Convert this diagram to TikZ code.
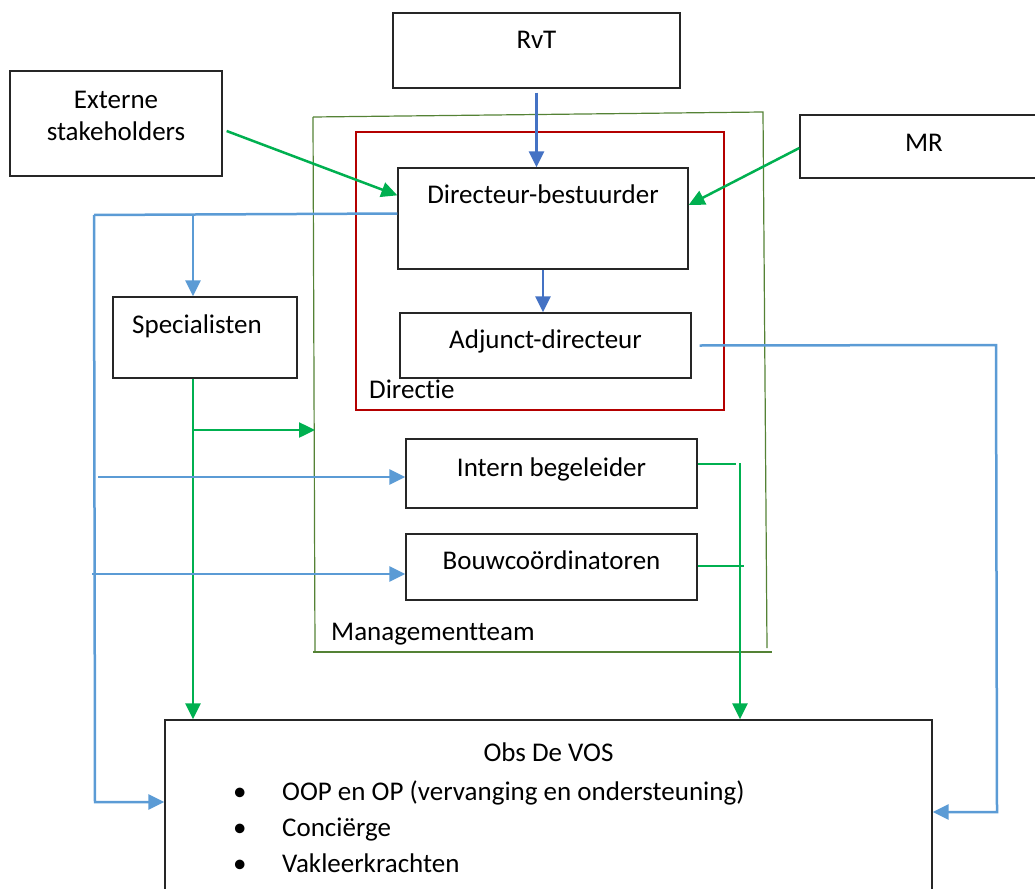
\documentclass[tikz,border=0pt]{standalone}
\usepackage{fontspec}
\setmainfont{Carlito}[Ligatures=NoCommon]
\usetikzlibrary{arrows.meta}
\definecolor{lineblue}{RGB}{91,155,213}
\definecolor{darkblue}{RGB}{68,114,196}
\definecolor{arrowgreen}{RGB}{0,176,80}
\definecolor{teamgreen}{RGB}{84,130,53}
\definecolor{boxred}{RGB}{180,0,0}
\tikzset{
  box/.style={draw=black!85, line width=1.3pt, inner sep=0pt, anchor=base},
  blueline/.style={lineblue, line width=2.5pt},
  darkline/.style={darkblue, line width=2.5pt},
  greenline/.style={arrowgreen, line width=2.5pt},
  tip/.style={-{Triangle[length=16pt,width=15pt]}},
}

\begin{document}
\begin{tikzpicture}[x=1pt, y=-1pt, font=\fontsize{27}{32}\selectfont]
\useasboundingbox (0,0) rectangle (1035,888);

% groups
\draw[teamgreen, line width=1.2pt] (313,117) -- (763,112) -- (767,648);
\draw[teamgreen, line width=1.2pt] (313,117) -- (315,652);
\draw[teamgreen, line width=1.2pt] (313,652) -- (772,652);
\node[anchor=base west, inner sep=0pt] (mtlabel) at (331,640) {Managementteam};
\draw[boxred, line width=2.6pt] (356,132) rectangle (724,410);
\node[anchor=base west, inner sep=0pt] (dirlabel) at (369,398) {Directie};

% boxes
\node[box, minimum width=287pt, text height=36pt, text depth=39pt] (rvt) at (536.5,49) {RvT};
\node[box, minimum width=212pt, align=center, text height=69pt, text depth=36pt] (ext) at (116,140) {Externe\\stakeholders};
\node[box, minimum width=248pt, text height=36pt, text depth=27pt] (mr) at (924,151) {MR};
\node[box, minimum width=290pt, text height=35pt, text depth=66pt] (dir) at (543,203) {Directeur-bestuurder};
\node[box, minimum width=291pt, text height=35pt, text depth=30pt] (adj) at (545.5,348) {Adjunct-directeur};
\node[box, minimum width=184pt, text height=36pt, text depth=45pt] (spec) at (205,333) {Specialisten\hspace*{16pt}};
\node[box, minimum width=291pt, text height=37pt, text depth=32pt] (ib) at (551.5,476) {Intern begeleider};
\node[box, minimum width=291pt, text height=35pt, text depth=31pt] (bouw) at (551.5,569) {Bouwcoördinatoren};
\node[box, minimum width=767pt, text height=41pt, text depth=140pt] (obs) at (548.5,761) {Obs De VOS};
\node[anchor=base west, inner sep=0pt] (item1) at (233,800) {\makebox[49pt][l]{\textbullet}OOP en OP (vervanging en ondersteuning)};
\node[anchor=base west, inner sep=0pt] (item2) at (233,836) {\makebox[49pt][l]{\textbullet}Conciërge};
\node[anchor=base west, inner sep=0pt] (item3) at (233,872) {\makebox[49pt][l]{\textbullet}Vakleerkrachten};

% corners
\coordinate (bl) at (94,215);
\coordinate (br) at (193,214);
\coordinate (bb) at (95,802);
\coordinate (sg) at (193,430);
\coordinate (team) at (315,430);
\coordinate (ibl) at (98,477);
\coordinate (bcl) at (92,574);
\coordinate (gc) at (740,463);
\coordinate (ar) at (996,345);
\coordinate (ab) at (997,812);

% arrows
\draw[darkline, tip, shorten <=4pt] (rvt.south) -- (rvt.south |- dir.north);
\draw[greenline, tip] ([shift={(4,7.5)}]ext.east) -- ([yshift=-28pt]dir.north west);
\draw[greenline, tip] ([yshift=-1.5pt]mr.west) -- ([yshift=13.5pt]dir.east);
\draw[darkline, tip] (dir.south) -- (dir.south |- adj.north);

\draw[blueline] ([yshift=5pt]dir.west) -- (bl);
\draw[blueline, tip] (bl) -- (bb) -- (bb -| obs.west);
\draw[blueline, tip] (br) -- (br |- spec.north);

\draw[greenline, tip] (br |- spec.south) -- (sg) -- (team);
\draw[greenline, tip] (sg) -- (sg |- obs.north);

\draw[blueline, tip] (ibl) -- (ibl -| ib.west);
\draw[blueline, tip] (bcl) -- (bcl -| bouw.west);

\draw[greenline] ([yshift=9.5pt]ib.east) -- ++(38,0);
\draw[greenline] ([yshift=1pt]bouw.east) -- ++(46,0);
\draw[greenline, tip] (gc) -- (gc |- obs.north);

\draw[blueline, tip] ([xshift=8pt]adj.east) -- (ar) -- (ab) -- (ab -| obs.east);
\end{tikzpicture}
\end{document}
